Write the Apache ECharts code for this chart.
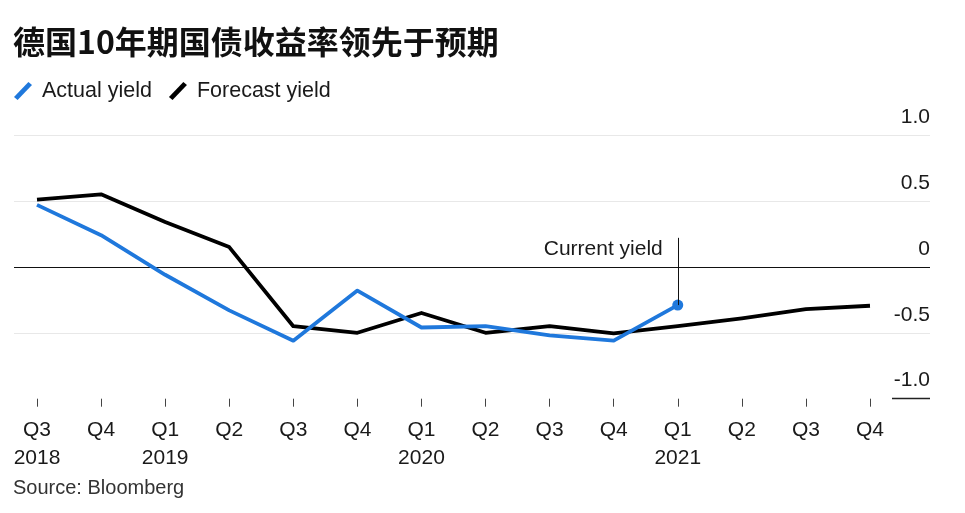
<!DOCTYPE html>
<html>
<head>
<meta charset="utf-8">
<script src="https://cdn.jsdelivr.net/npm/echarts@6/dist/echarts.min.js"></script>
<style>
html,body{margin:0;padding:0;background:#fff;}
#chart{width:965px;height:513px;}
</style>
</head>
<body>
<div id="chart"></div>
<script>
var categories = ['2018 Q3','2018 Q4','2019 Q1','2019 Q2','2019 Q3','2019 Q4','2020 Q1','2020 Q2','2020 Q3','2020 Q4','2021 Q1','2021 Q2','2021 Q3','2021 Q4'];
var quarterLabels = ['Q3','Q4','Q1','Q2','Q3','Q4','Q1','Q2','Q3','Q4','Q1','Q2','Q3','Q4'];
var yearLabels = ['2018','','2019','','','','2020','','','','2021','','',''];
var actualYield = [0.47, 0.24, -0.06, -0.33, -0.56, -0.18, -0.46, -0.45, -0.52, -0.56, -0.29, null, null, null];
var forecastYield = [0.51, 0.55, 0.34, 0.15, -0.45, -0.50, -0.35, -0.50, -0.45, -0.505, -0.45, -0.39, -0.32, -0.295];
var yTicks = [-1, -0.5, 0, 0.5, 1];
var currentIndex = 10;

var FONT = '"Liberation Sans", Arial, sans-serif';
var chart = echarts.init(document.getElementById('chart'));
chart.setOption({
  animation: false,
  backgroundColor: '#fff',
  title: {
    text: '德国10年期国债收益率领先于预期',
    left: 13, top: 24, padding: 0,
    textStyle: {fontFamily: '"Noto Sans CJK SC", sans-serif', fontSize: 32, fontWeight: 'bold', color: '#111', lineHeight: 36}
  },
  legend: {
    left: 14, top: 80, padding: 0,
    itemWidth: 18, itemHeight: 18, itemGap: 17,
    icon: 'path://M0,8.4 L2,10 L10,1.6 L8,0 Z',
    textStyle: {fontFamily: FONT, fontSize: 21.5, color: '#1a1a1a', padding: [0,0,0,5]},
    data: ['Actual yield', 'Forecast yield']
  },
  grid: [
    {left: 14, right: 35, top: 135, bottom: 114.3},
    {left: 37, right: 95, top: 135, bottom: 114.3}
  ],
  xAxis: [
    {gridIndex: 0, type: 'value', min: 0, max: 1, show: false},
    {
      gridIndex: 1, type: 'category', data: categories, boundaryGap: false,
      axisLine: {show: false, onZero: false},
      axisTick: {show: true, alignWithLabel: true, length: 8, inside: false, lineStyle: {color: '#444', width: 1}},
      axisLabel: {
        interval: 0, margin: 17.5, hideOverlap: false,
        fontFamily: FONT, fontSize: 21, color: '#1a1a1a', lineHeight: 28,
        formatter: function (v, i) { return quarterLabels[i] + '\n' + (yearLabels[i] || ' '); }
      },
      splitLine: {show: false}
    }
  ],
  yAxis: [
    {
      gridIndex: 0, type: 'value', min: -1, max: 1, interval: 0.5, position: 'right',
      axisLine: {show: false}, axisTick: {show: false},
      axisLabel: {
        inside: true, margin: 0, verticalAlign: 'bottom', lineHeight: 21, padding: [0,0,7.5,0],
        fontFamily: FONT, fontSize: 21, color: '#1a1a1a',
        formatter: function (v) { return v === 0 ? '0' : v.toFixed(1); }
      },
      splitLine: {show: true, lineStyle: {color: ['rgba(0,0,0,0)', '#e8e8e8', '#111', '#e8e8e8', '#e8e8e8'], width: [1]}}
    },
    {gridIndex: 1, type: 'value', min: -1, max: 1, show: false, splitLine: {show: false}}
  ],
  graphic: [
    {type: 'line', shape: {x1: 892, y1: 398.5, x2: 930, y2: 398.5}, style: {stroke: '#222', lineWidth: 1.5}, silent: true},
    {type: 'text', left: 13, top: 478.5, style: {text: 'Source: Bloomberg', fontFamily: FONT, fontSize: 20, fill: '#333'}}
  ],
  series: [
    {
      name: 'Forecast yield', type: 'line', xAxisIndex: 1, yAxisIndex: 1,
      data: forecastYield, symbol: 'none', z: 2,
      lineStyle: {color: '#000', width: 3.8, join: 'round'}, itemStyle: {color: '#000'}
    },
    {
      name: 'Actual yield', type: 'line', xAxisIndex: 1, yAxisIndex: 1,
      data: actualYield, symbol: 'circle', showAllSymbol: true, z: 3,
      symbolSize: function (v, p) { return p.dataIndex === currentIndex ? 11 : 0; },
      lineStyle: {color: '#1f78dc', width: 3.8, join: 'round'}, itemStyle: {color: '#1f78dc'},
      markLine: {
        silent: true, symbol: ['none', 'none'], animation: false,
        lineStyle: {color: '#111', width: 1, type: 'solid'}, label: {show: false},
        data: [[{coord: [currentIndex, actualYield[currentIndex]]}, {coord: [currentIndex, 0.22]}]]
      },
      markPoint: {
        silent: true, symbol: 'circle', symbolSize: 0,
        label: {show: true, position: 'left', distance: 15, formatter: 'Current yield', fontFamily: FONT, fontSize: 21, color: '#1a1a1a'},
        data: [{coord: [currentIndex, 0.135]}]
      }
    }
  ]
});
</script>
</body>
</html>
